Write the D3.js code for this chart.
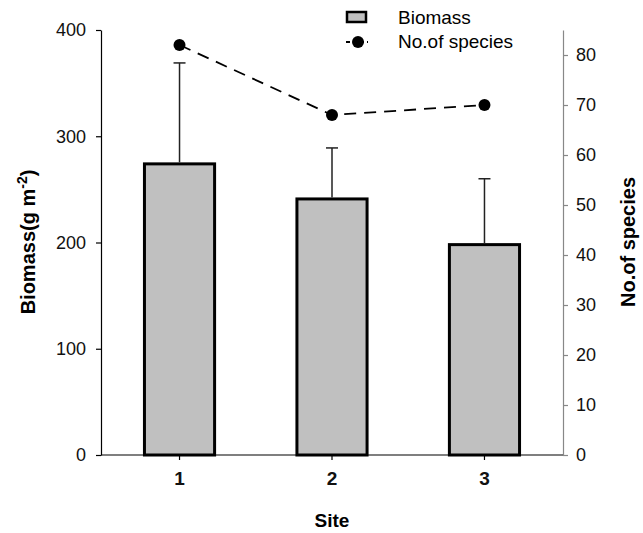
<!DOCTYPE html>
<html>
<head>
<meta charset="utf-8">
<script src="https://cdn.jsdelivr.net/npm/d3@7"></script>
<style>
  body { margin: 0; background: #fff; }
  svg { font-family: "Liberation Sans", Arial, sans-serif; }
</style>
</head>
<body>
<svg id="chart"></svg>
<script>
// data
const sites = ["1", "2", "3"];
const biomass = [274, 241, 198];
const biomassErr = [95, 48, 62];
const species = [82, 68, 70];
const leftTicks = [0, 100, 200, 300, 400];
const rightTicks = [0, 10, 20, 30, 40, 50, 60, 70, 80];

const width = 643, height = 533;
const svg = d3.select("#chart").attr("width", width).attr("height", height);

const x = d3.scaleBand().domain(sites).range([101, 563])
  .paddingInner(0.54).paddingOuter(0.285);
const yL = d3.scaleLinear().domain([0, 400]).range([455, 30]);
const yR = d3.scaleLinear().domain([0, 85]).range([455, 30]);

// bars
svg.append("g").selectAll("rect")
  .data(sites)
  .enter().append("rect")
  .attr("x", d => x(d))
  .attr("y", (d, i) => yL(biomass[i]))
  .attr("width", x.bandwidth())
  .attr("height", (d, i) => yL(0) - yL(biomass[i]))
  .attr("fill", "#c0c0c0")
  .attr("stroke", "#000")
  .attr("stroke-width", 3);

// upper error bars
const err = svg.append("g").attr("stroke", "#222").attr("stroke-width", 1.5);
sites.forEach((s, i) => {
  const cx = x(s) + x.bandwidth() / 2;
  const top = yL(biomass[i] + biomassErr[i]);
  err.append("line").attr("x1", cx).attr("x2", cx)
    .attr("y1", yL(biomass[i]) - 1.5).attr("y2", top);
  err.append("line").attr("x1", cx - 6).attr("x2", cx + 6)
    .attr("y1", top).attr("y2", top);
});

// species line
const line = d3.line()
  .x((d, i) => x(sites[i]) + x.bandwidth() / 2)
  .y(d => yR(d));
svg.append("path")
  .datum(species)
  .attr("d", line)
  .attr("fill", "none")
  .attr("stroke", "#000")
  .attr("stroke-width", 1.8)
  .attr("stroke-dasharray", "12,8");
svg.append("g").selectAll("circle")
  .data(species)
  .enter().append("circle")
  .attr("cx", (d, i) => x(sites[i]) + x.bandwidth() / 2)
  .attr("cy", d => yR(d))
  .attr("r", 6)
  .attr("fill", "#000");

// axes
const leftAxis = svg.append("g")
  .attr("transform", "translate(101,0)")
  .call(d3.axisLeft(yL).tickValues(leftTicks).tickSize(5).tickPadding(10).tickSizeOuter(0));
leftAxis.selectAll("text").attr("font-size", 18).attr("fill", "#111");
leftAxis.selectAll("line, path").attr("stroke", "#000").attr("stroke-width", 1.2);

const rightAxis = svg.append("g")
  .attr("transform", "translate(563,0)")
  .call(d3.axisRight(yR).tickValues(rightTicks).tickSize(5).tickPadding(8).tickSizeOuter(0));
rightAxis.selectAll("text").attr("font-size", 18).attr("fill", "#111");
rightAxis.selectAll("line, path").attr("stroke", "#888").attr("stroke-width", 1.2);

const bottomAxis = svg.append("g")
  .attr("transform", "translate(0,455)")
  .call(d3.axisBottom(x).tickSize(5).tickPadding(12).tickSizeOuter(0));
bottomAxis.select(".domain").attr("d", "M101,0H563");
bottomAxis.selectAll("text").attr("font-size", 19).attr("font-weight", "bold").attr("fill", "#111");
bottomAxis.selectAll("line, path").attr("stroke", "#000").attr("stroke-width", 1.2);

// axis titles
svg.append("text")
  .attr("x", (101 + 563) / 2).attr("y", 527)
  .attr("text-anchor", "middle")
  .attr("font-size", 19).attr("font-weight", "bold")
  .text("Site");

const lt = svg.append("text")
  .attr("transform", "translate(35,242) rotate(-90)")
  .attr("text-anchor", "middle")
  .attr("font-size", 20).attr("font-weight", "bold");
lt.append("tspan").text("Biomass(g m");
lt.append("tspan").attr("dy", -8).attr("font-size", 14).text("-2");
lt.append("tspan").attr("dy", 8).text(")");

svg.append("text")
  .attr("transform", "translate(635,242) rotate(-90)")
  .attr("text-anchor", "middle")
  .attr("font-size", 20).attr("font-weight", "bold")
  .text("No.of species");

// legend
const lg = svg.append("g");
lg.append("rect").attr("x", 347).attr("y", 12).attr("width", 19).attr("height", 10)
  .attr("fill", "#c0c0c0").attr("stroke", "#000").attr("stroke-width", 2.5);
lg.append("line").attr("x1", 346).attr("x2", 368).attr("y1", 42).attr("y2", 42)
  .attr("stroke", "#000").attr("stroke-width", 1.8).attr("stroke-dasharray", "4,3");
lg.append("circle").attr("cx", 358).attr("cy", 42).attr("r", 6).attr("fill", "#000");
lg.append("text").attr("x", 398).attr("y", 24).attr("font-size", 19).text("Biomass");
lg.append("text").attr("x", 398).attr("y", 48).attr("font-size", 19).text("No.of species");
</script>
</body>
</html>
